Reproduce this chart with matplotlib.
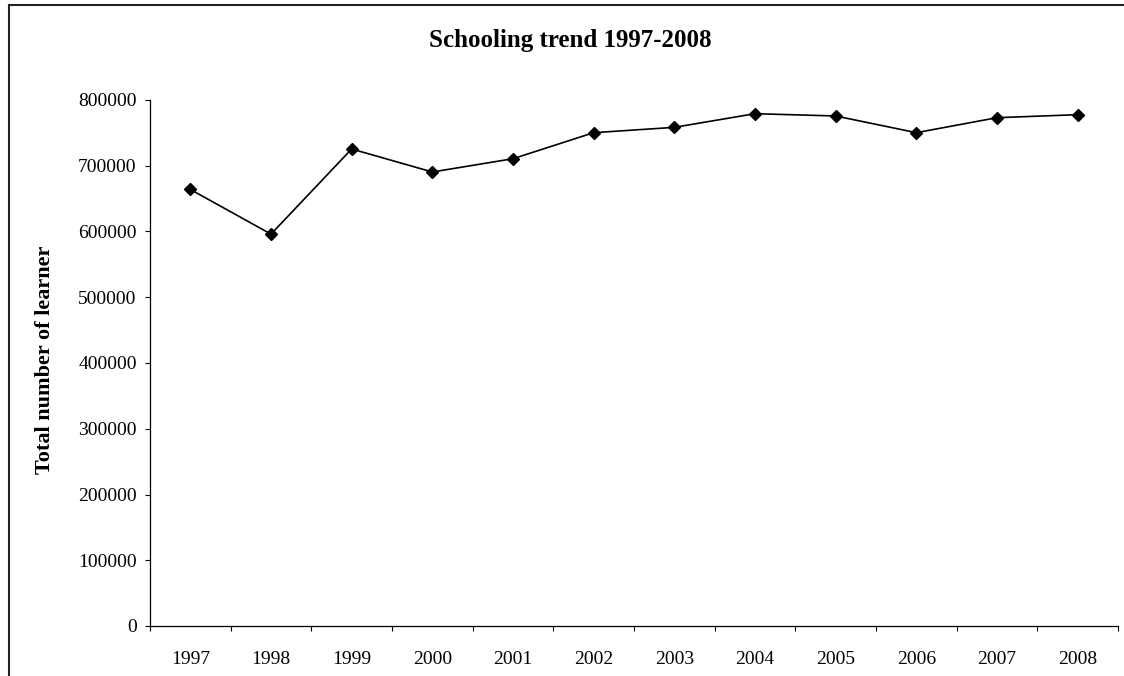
import matplotlib
matplotlib.use("Agg")
import matplotlib.pyplot as plt
from matplotlib.patches import Rectangle
from matplotlib.transforms import Bbox

years = ["1997", "1998", "1999", "2000", "2001", "2002", "2003", "2004", "2005", "2006", "2007", "2008"]
learners = [664000, 596000, 725500, 690500, 710700, 750300, 758400, 779200, 775700, 750300, 773100, 777700]
y_ticks = [0, 100000, 200000, 300000, 400000, 500000, 600000, 700000, 800000]
title = "Schooling trend 1997-2008"
ylabel = "Total number of learners"

W, H = 1124, 676
plt.rcParams['font.family'] = ['Liberation Serif', 'DejaVu Serif']
fig = plt.figure(figsize=(W / 100, H / 100), dpi=100)

ax_l, ax_r, ax_t, ax_b = 150, 1118, 100, 626
ax = fig.add_axes([ax_l / W, 1 - ax_b / H, (ax_r - ax_l) / W, (ax_b - ax_t) / H])

x = list(range(len(years)))
ax.plot(x, learners, color='black', lw=1.2, marker='D', markersize=6.5,
        markerfacecolor='black', markeredgecolor='black', clip_on=False)

ax.set_xlim(-0.5, len(years) - 0.5)
ax.set_ylim(0, 800000)
ax.set_yticks(y_ticks)
ax.set_yticklabels([str(v) for v in y_ticks])

ax.set_xticks([i - 0.5 for i in range(len(years) + 1)])
ax.set_xticklabels([])
ax.set_xticks(x, minor=True)
ax.set_xticklabels(years, minor=True)
ax.tick_params(axis='x', which='major', direction='out', length=3.6, width=0.8, color='black')
ax.tick_params(axis='x', which='minor', length=0, pad=18, labelsize=14)
ax.tick_params(axis='y', which='major', direction='out', length=3.6, width=0.8, pad=6, labelsize=14)

for s in ['top', 'right']:
    ax.spines[s].set_visible(False)
for s in ['left', 'bottom']:
    ax.spines[s].set_linewidth(0.9)
    ax.spines[s].set_color('black')

fig.text(570 / W, 1 - 40 / H, title, ha='center', va='center', fontsize=18, fontweight='bold')

yl = fig.text(45 / W, 1 - 474 / H, ylabel, rotation=90, rotation_mode='anchor',
              ha='left', va='center', fontsize=16, fontweight='bold')
clip = Bbox.from_extents(0, 0, W, H - 246)
yl.set_clip_box(clip)
yl.set_clip_on(True)

fig.patches.append(Rectangle((9 / W, -0.05), 1.2, 1.05 - 5 / H, transform=fig.transFigure,
                             fill=False, edgecolor='#222222', lw=1.5))

fig.savefig("out.png", dpi=100)
